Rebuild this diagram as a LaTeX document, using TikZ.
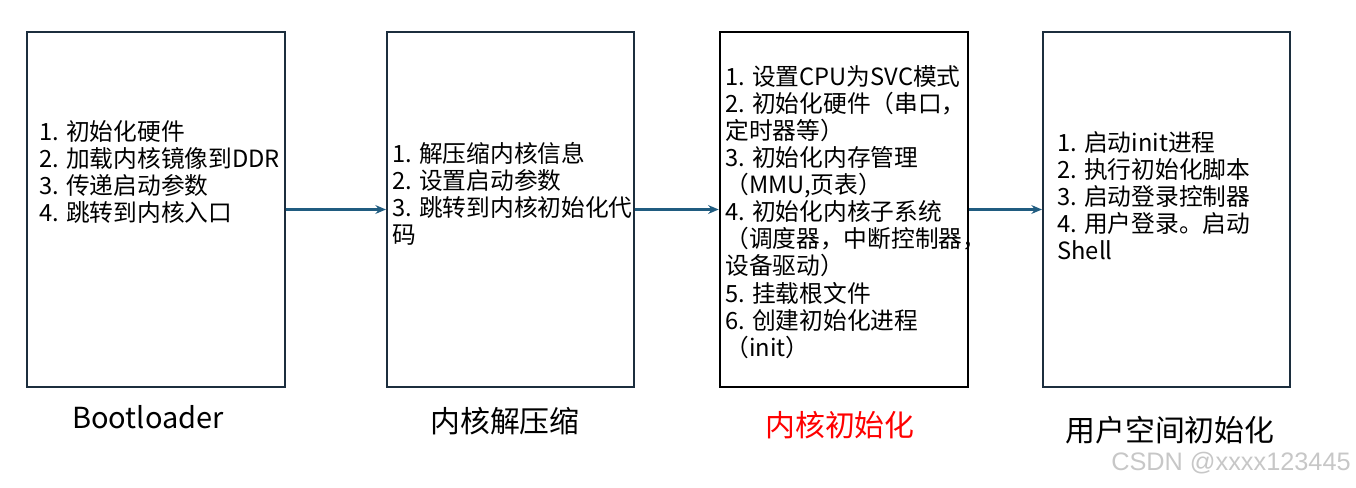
\documentclass[tikz,border=0pt]{standalone}
\usepackage{fontspec}
\setmainfont{Noto Sans CJK SC}
\newfontfamily\markfont{Liberation Sans}
\usetikzlibrary{positioning,arrows.meta}
\definecolor{boxline}{RGB}{28,46,62}
\definecolor{flowline}{RGB}{32,92,128}

\begin{document}
\begin{tikzpicture}[x=0.02cm, y=-0.02cm, >={Stealth[length=6pt, width=5pt]},
    stagebox/.style={draw=boxline, line width=1.2pt, minimum height=7.1cm, inner sep=0pt},
    steps/.style={anchor=west, align=left, inner sep=0pt, font=\fontsize{13.5}{15.4}\selectfont},
    caption/.style={font=\fontsize{17}{20}\selectfont},
    flow/.style={->, draw=flowline, line width=1.2pt}]

    \useasboundingbox (0, 0) rectangle (1356, 487);

    % Stage boxes
    \node[stagebox, minimum width=5.16cm] (boot) at (156, 209.5) {};
    \node[stagebox, minimum width=4.94cm] (unzip) at (510.5, 209.5) {};
    \node[stagebox, draw=black, line width=1.5pt, minimum width=4.96cm] (kinit) at (844, 209.5) {};
    \node[stagebox, minimum width=4.94cm] (uinit) at (1166.5, 209.5) {};

    % Steps of each stage
    \node[steps] (bootsteps) at (39, 172) {1. 初始化硬件\\2. 加载内核镜像到DDR\\3. 传递启动参数\\4. 跳转到内核入口};
    \node[steps] (unzipsteps) at (392, 194) {1. 解压缩内核信息\\2. 设置启动参数\\3. 跳转到内核初始化代\\码};
    \node[steps] (kinitsteps) at (725, 212) {1. 设置CPU为SVC模式\\2. 初始化硬件（串口，\\定时器等）\\3. 初始化内存管理\\（MMU,页表）\\4. 初始化内核子系统\\（调度器，中断控制器，\\设备驱动）\\5. 挂载根文件\\6. 创建初始化进程\\（init）};
    \node[steps] (uinitsteps) at (1057, 196) {1. 启动init进程\\2. 执行初始化脚本\\3. 启动登录控制器\\4. 用户登录。启动\\Shell};

    % Stage names
    \node[caption, font=\fontsize{16.5}{20}\selectfont] (bootname) at (148, 417) {Bootloader};
    \node[caption] (unzipname) at (505, 421) {内核解压缩};
    \node[caption, text=red] (kinitname) at (840, 425) {内核初始化};
    \node[caption] (uinitname) at (1170, 430) {用户空间初始化};

    % Flow between stages
    \draw[flow] (boot) -- (unzip);
    \draw[flow] (unzip) -- (kinit);
    \draw[flow] (kinit) -- (uinit);

    % Watermark
    \node[text=black!22, font=\markfont\fontsize{14.4}{16}\selectfont] (mark) at (1231, 463) {CSDN @xxxx123445};

\end{tikzpicture}
\end{document}
